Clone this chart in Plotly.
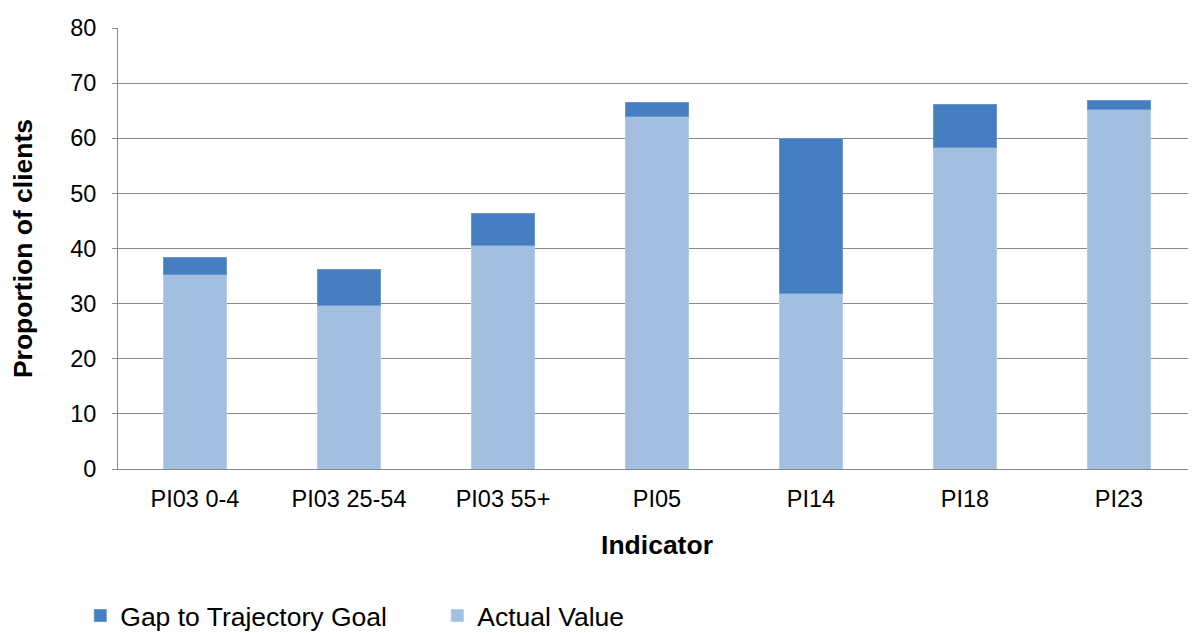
import plotly.graph_objects as go

categories = ["PI03 0-4", "PI03 25-54", "PI03 55+", "PI05", "PI14", "PI18", "PI23"]
actual_value = [35.2, 29.6, 40.5, 63.9, 31.9, 58.3, 65.2]
gap_to_goal = [3.1, 6.6, 5.8, 2.5, 28.0, 7.9, 1.7]
y_ticks = [0, 10, 20, 30, 40, 50, 60, 70, 80]

FONT = "Liberation Sans, Arial, sans-serif"
DARK = "#457FC1"
LIGHT = "#A3BFDF"

fig = go.Figure()
fig.add_trace(go.Bar(
    x=categories, y=actual_value, name="Actual Value",
    marker=dict(color=LIGHT, line=dict(color="#B5CCE6", width=1)),
    legendrank=2,
))
fig.add_trace(go.Bar(
    x=categories, y=gap_to_goal, name="Gap to Trajectory Goal",
    marker=dict(color=DARK, line=dict(color="#6A96CC", width=1)),
    legendrank=1,
))

# page body has an 8px margin, so the figure is 8px smaller than the window
fig.update_layout(
    barmode="stack",
    bargap=0.59,
    width=1188, height=625,
    margin=dict(l=110, r=0, t=20, b=164, autoexpand=False),
    plot_bgcolor="white", paper_bgcolor="white",
    font=dict(family=FONT, color="black", size=23.5),
    showlegend=True,
    legend=dict(
        orientation="h", x=-0.035, xanchor="left", y=-0.333, yanchor="middle",
        font=dict(size=26.5, family=FONT), traceorder="normal",
        entrywidth=312, entrywidthmode="pixels",
    ),
    xaxis=dict(
        title=dict(text="<b>Indicator</b>", font=dict(size=26.5, family=FONT), standoff=24),
        showline=True, linecolor="#888888", linewidth=1,
        ticks="", ticklabelstandoff=9, tickfont=dict(size=23.5, family=FONT),
        showgrid=False,
    ),
    yaxis=dict(
        title=dict(text="<b>Proportion of clients</b>", font=dict(size=26.5, family=FONT), standoff=33),
        range=[0, 80], tickvals=y_ticks,
        showline=True, linecolor="#888888", linewidth=1,
        showgrid=True, gridcolor="#888888", gridwidth=1,
        ticks="outside", ticklen=5, tickcolor="#888888",
        ticklabelstandoff=11,
        tickfont=dict(size=23.5, family=FONT),
        zeroline=False,
    ),
)

fig.write_html("out.html")
